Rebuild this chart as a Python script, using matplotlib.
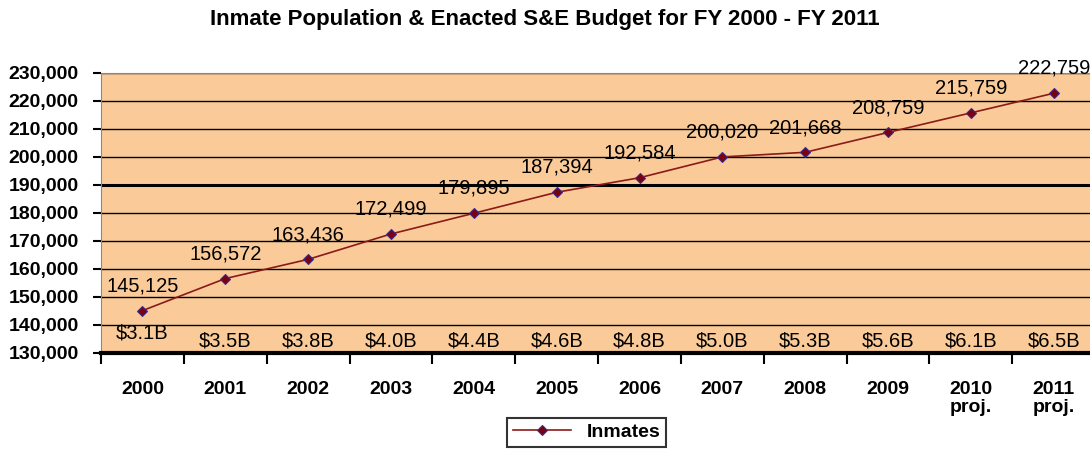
import matplotlib
matplotlib.use('Agg')
import matplotlib.pyplot as plt
from matplotlib.ticker import FuncFormatter

# datos
anios = ['2000', '2001', '2002', '2003', '2004', '2005', '2006', '2007',
         '2008', '2009', '2010\nproj.', '2011\nproj.']
reclusos = [145125, 156572, 163436, 172499, 179895, 187394, 192584, 200020,
            201668, 208759, 215759, 222759]
presupuesto = ['$3.1B', '$3.5B', '$3.8B', '$4.0B', '$4.4B', '$4.6B', '$4.8B',
               '$5.0B', '$5.3B', '$5.6B', '$6.1B', '$6.5B']

plt.rcParams['font.family'] = ['Liberation Sans', 'DejaVu Sans']

fig = plt.figure(figsize=(10.9, 4.59), dpi=100)
ax = fig.add_axes([0.0927, 0.231, 0.912, 0.610])
ax.set_facecolor('#FACB98')

x = list(range(len(reclusos)))
ax.plot(x, reclusos, color='#8B1A1A', lw=1.2, marker='D', ms=5,
        mfc='#7A0010', mec='#3B2A8C', mew=0.8, label='Inmates', zorder=3)

for i, v in enumerate(reclusos):
    ax.annotate(f'{v:,}', (i, v), xytext=(0, 11), textcoords='offset points',
                ha='center', va='bottom', fontsize=14.5, annotation_clip=False)

for i, txt in enumerate(presupuesto):
    yb = 137100 if i == 0 else 134300
    ax.text(i, yb, txt, ha='center', va='center', fontsize=14.5)

ax.set_ylim(130000, 230000)
ax.set_xlim(-0.5, 11.5)
ax.set_yticks(range(130000, 230001, 10000))
ax.yaxis.set_major_formatter(FuncFormatter(lambda v, p: f'{int(v):,}'))
for yv in range(140000, 230001, 10000):
    ax.axhline(yv, color='black', lw=2.2 if yv == 190000 else 1.0, zorder=1)

ax.set_xticks(x)
ax.set_xticklabels(anios, fontweight='bold', fontsize=14, linespacing=1.1)
ax.set_xticks([i - 0.5 for i in range(13)], minor=True)
ax.tick_params(axis='x', which='major', length=0, pad=20)
ax.tick_params(axis='x', which='minor', length=8, width=1.5, direction='out')
ax.tick_params(axis='y', length=6, width=1.5, labelsize=14, pad=10)
for lb in ax.get_yticklabels():
    lb.set_fontweight('bold')

ax.spines['bottom'].set_linewidth(3)
ax.spines['left'].set_color('#888888')
ax.spines['top'].set_color('#888888')
ax.spines['right'].set_visible(False)

fig.suptitle('Inmate Population & Enacted S&E Budget for FY 2000 - FY 2011',
             fontsize=16, fontweight='bold', y=0.98)

leg = fig.legend(loc='upper center', bbox_to_anchor=(0.538, 0.09),
                 frameon=True, fancybox=False, edgecolor='black',
                 prop={'weight': 'bold', 'size': 14}, handlelength=3,
                 borderpad=0.3, borderaxespad=0)
leg.get_frame().set_linewidth(1.5)

fig.savefig('out.png', dpi=100)
